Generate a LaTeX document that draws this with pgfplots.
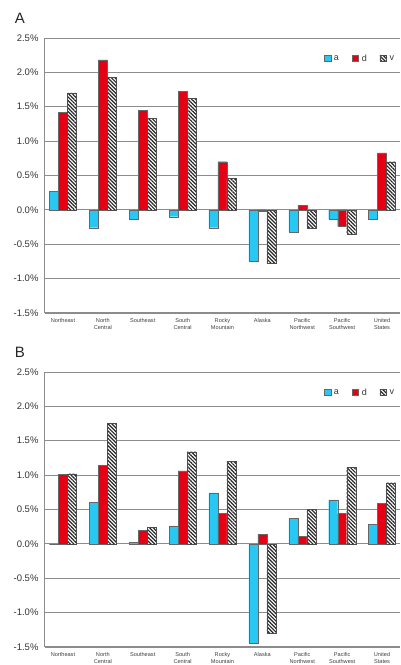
\documentclass[border=0pt]{standalone}
\usepackage{pgfplots}
\pgfplotsset{compat=1.18}
\usepackage{fontspec}
\setmainfont{Liberation Sans}
\usetikzlibrary{patterns.meta}
\definecolor{ca}{RGB}{40,200,245}
\definecolor{cd}{RGB}{230,0,20}
\definecolor{gridc}{RGB}{140,140,140}
\pgfplotsset{
  panel/.style={
    scale only axis, width=355pt, height=275pt,
    anchor=south west,
    ybar=0pt, bar width=9pt,
    xmin=-0.45, xmax=8.45,
    ymin=-1.5, ymax=2.5,
    ytick={-1.5,-1,-0.5,0,0.5,1,1.5,2,2.5},
    xtick={0,...,8},
    xticklabels={Northeast,{North\\Central},Southeast,{South\\Central},{Rocky\\Mountain},Alaska,{Pacific\\Northwest},{Pacific\\Southwest},{United\\States}},
    xticklabel style={align=center, font=\fontsize{5.6}{7.2}\selectfont, text=black!75, yshift=-2pt},
    major tick length=0pt,
    axis x line*=bottom, axis y line*=left,
    axis line style={gridc, line width=1pt, -},
    ymajorgrids, grid style={gridc, line width=0.9pt},
    /pgf/number format/assume math mode=true,
    yticklabel={\pgfmathprintnumber[fixed,fixed zerofill,precision=1]{\tick}\%},
    yticklabel style={font=\fontsize{9.5}{11}\selectfont, text=black!80, xshift=-3pt},
    legend columns=3,
    legend style={draw=none, fill=none, at={(rel axis cs:0.998,0.955)}, anchor=north east,
      font=\fontsize{9}{10}\selectfont, text=black!80,
      /tikz/every even column/.append style={column sep=11pt},
      /tikz/every odd column/.append style={column sep=1pt}},
    legend image code/.code={\draw[#1] (0pt,-3pt) rectangle (6.5pt,3.5pt);},
    clip=false,
  },
  sa/.style={fill=ca, draw=black!60, line width=0.3pt},
  sd/.style={fill=cd, draw=black!60, line width=0.3pt},
  sv/.style={fill=white, draw=black!70, line width=0.3pt, postaction={pattern={Lines[angle=-45,distance=2.6pt,line width=1.2pt]}, pattern color=black!85}},
}
\begin{document}
\begin{tikzpicture}
\path[use as bounding box] (0pt,0pt) rectangle (401pt,665pt);
\node[font=\fontsize{15}{17}\selectfont, text=black!85] at (20pt,647pt) {A};
\node[font=\fontsize{15}{17}\selectfont, text=black!85] at (20pt,313pt) {B};
\begin{axis}[panel, at={(45pt,352pt)}]
\addplot[sa] coordinates {(0,0.27) (1,-0.26) (2,-0.14) (3,-0.10) (4,-0.26) (5,-0.75) (6,-0.32) (7,-0.14) (8,-0.14)};
\addplot[sd] coordinates {(0,1.42) (1,2.18) (2,1.45) (3,1.72) (4,0.70) (5,-0.02) (6,0.07) (7,-0.24) (8,0.83)};
\addplot[sv] coordinates {(0,1.70) (1,1.93) (2,1.33) (3,1.62) (4,0.46) (5,-0.78) (6,-0.27) (7,-0.36) (8,0.70)};
\legend{a,d,v}
\end{axis}
\begin{axis}[panel, at={(45pt,18pt)}]
\addplot[sa] coordinates {(0,0.0) (1,0.60) (2,0.02) (3,0.26) (4,0.74) (5,-1.45) (6,0.37) (7,0.64) (8,0.28)};
\addplot[sd] coordinates {(0,1.01) (1,1.14) (2,0.20) (3,1.06) (4,0.44) (5,0.14) (6,0.11) (7,0.44) (8,0.59)};
\addplot[sv] coordinates {(0,1.02) (1,1.75) (2,0.24) (3,1.34) (4,1.20) (5,-1.30) (6,0.50) (7,1.11) (8,0.89)};
\legend{a,d,v}
\end{axis}
\end{tikzpicture}
\end{document}
